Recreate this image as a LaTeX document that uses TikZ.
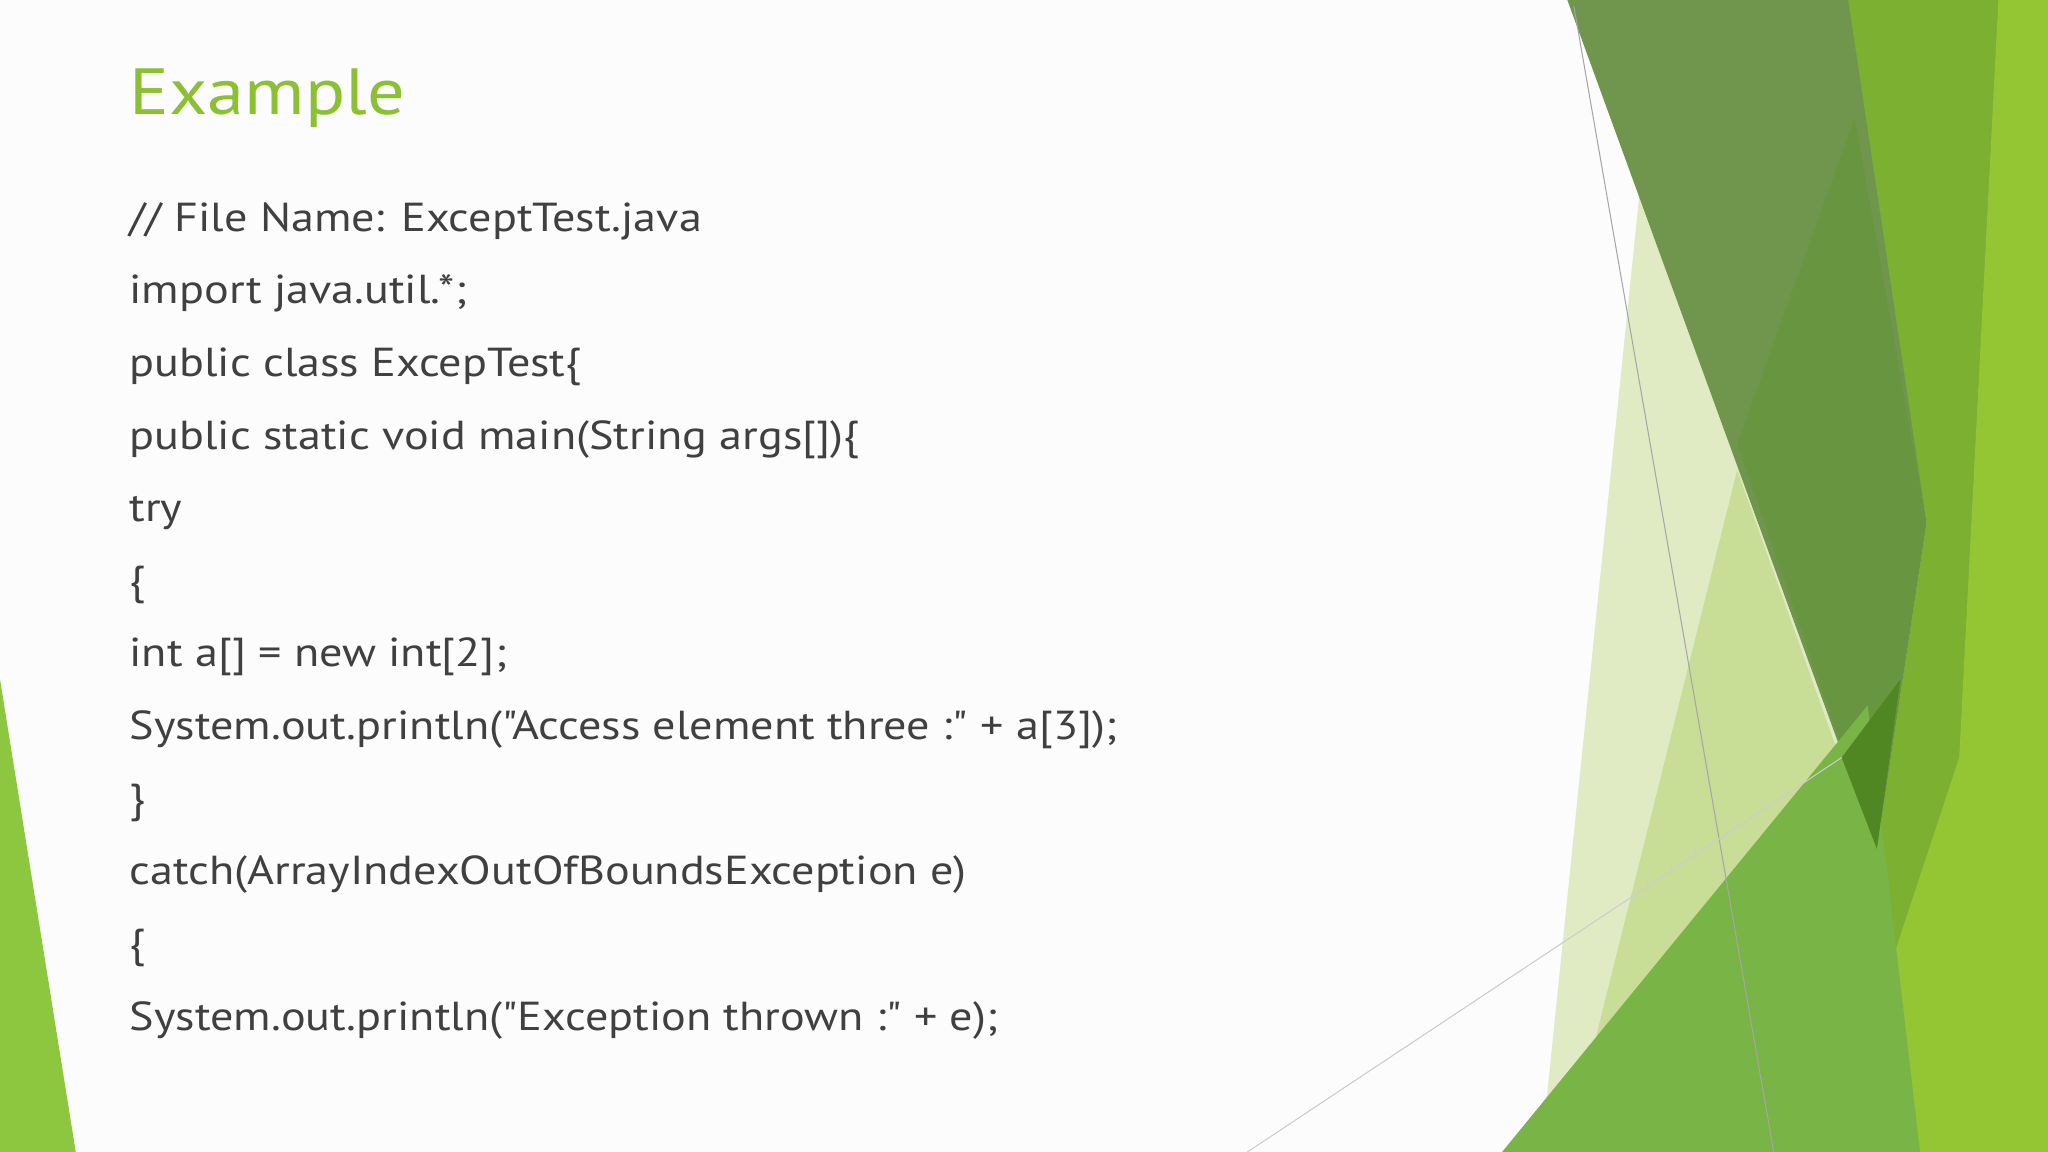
\documentclass[tikz,border=0pt]{standalone}
\usepackage{fontspec}
\setmainfont[Ligatures=TeXOff,FakeStretch=1.14]{PT Sans}
\definecolor{dk}{RGB}{112,150,78}
\definecolor{dk2}{RGB}{104,150,64}
\definecolor{md}{RGB}{124,176,48}
\definecolor{br}{RGB}{148,197,50}
\definecolor{pl}{RGB}{224,235,196}
\definecolor{pl2}{RGB}{200,222,150}
\definecolor{bg}{RGB}{120,180,70}
\definecolor{dkk}{RGB}{80,135,35}
\definecolor{lt}{RGB}{141,198,63}
\definecolor{ttl}{RGB}{138,192,49}
\begin{document}
\begin{tikzpicture}[x=1pt,y=-1pt,
  code/.style={anchor=base west,text=black!75,font=\fontsize{31}{36}\selectfont,inner sep=0}]
\useasboundingbox (0,0) rectangle (1568,882);
\fill[white!99!black] (0,0) rectangle (1568,882);
\fill[lt] (0,520) -- (0,882) -- (58,882) -- cycle;
\fill[pl] (1255,150) -- (1420,590) -- (1370,882) -- (1180,882) -- cycle;
\fill[pl2] (1330,360) -- (1430,640) -- (1390,882) -- (1200,882) -- cycle;
\fill[md] (1410,0) -- (1530,0) -- (1568,0) -- (1568,882) -- (1410,882) -- (1437,650) -- (1475,400) -- cycle;
\fill[dk] (1200,0) -- (1415,0) -- (1475,400) -- (1437,650) -- cycle;
\fill[dk2] (1420,90) -- (1475,400) -- (1437,650) -- (1330,340) -- cycle;
\fill[br] (1530,0) -- (1568,0) -- (1568,882) -- (1400,882) -- (1500,580) -- cycle;
\fill[bg] (1150,882) -- (1430,540) -- (1470,882) -- cycle;
\fill[dkk] (1410,580) -- (1455,520) -- (1437,650) -- cycle;
\draw[gray!70,line width=0.8] (1205,5) -- (1358,882);
\draw[gray!40,line width=0.8] (955,882) -- (1410,580);
\node[anchor=base west,inner sep=0,text=ttl,font=\fontsize{50}{56}\selectfont] (t) at (99,88) {Example};
\foreach \i/\s in {0/{// File Name: ExceptTest.java},1/{import java.util.*;},2/{public class ExcepTest\{},3/{public static void main(String args[])\{},4/{try},5/{\{},6/{int a[] = new int[2];},7/{System.out.println("Access element three :" + a[3]);},8/{\}},9/{catch(ArrayIndexOutOfBoundsException e)},10/{\{},11/{System.out.println("Exception thrown :" + e);}}
  \node[code] (l\i) at (99,177+55.6*\i) {\s};
\end{tikzpicture}
\end{document}
